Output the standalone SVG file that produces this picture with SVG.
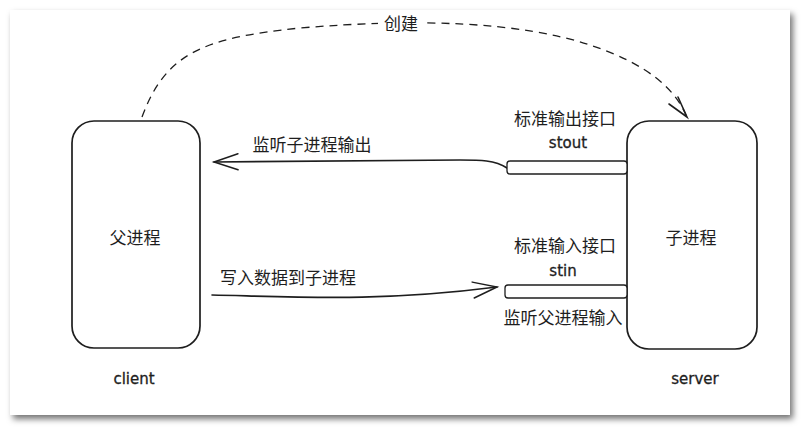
<svg xmlns="http://www.w3.org/2000/svg" width="801" height="427" viewBox="0 0 801 427">
<defs>
<filter id="sh" x="-5%" y="-5%" width="110%" height="115%">
<feDropShadow dx="3" dy="4" stdDeviation="3" flood-color="#000" flood-opacity="0.55"/>
</filter>
<marker id="ah" markerWidth="30" markerHeight="20" refX="0" refY="0" orient="auto" markerUnits="userSpaceOnUse" viewBox="-25 -10 30 20" overflow="visible">
<path d="M-24,-8 L0,0 L-24,8" fill="none" stroke="#1e1e1e" stroke-width="1.5" stroke-linecap="round"/>
</marker>
<style>
.box{fill:#fff;stroke:#1e1e1e;stroke-width:1.7}
.bar{fill:#fff;stroke:#1e1e1e;stroke-width:1.3}
.ln{fill:none;stroke:#1e1e1e;stroke-width:1.6;stroke-linecap:round}
.dash{fill:none;stroke:#1e1e1e;stroke-width:1.3;stroke-dasharray:8 6}
.t{font-family:"Noto Sans CJK SC","Noto Sans",sans-serif;font-size:17px;fill:#1e1e1e;text-anchor:middle;dominant-baseline:central}
.h{font-family:"DejaVu Sans",sans-serif;font-size:15px;fill:#1e1e1e;stroke:#1e1e1e;stroke-width:0.3;text-anchor:middle;dominant-baseline:central}
</style>
</defs>
<rect x="0" y="0" width="801" height="427" fill="#fff"/>
<rect x="10" y="10" width="780" height="405" fill="#fff" filter="url(#sh)"/>
<g id="connectors">
<path class="dash" d="M142,117 C165,55 200,38 300,28 C420,18 520,22 590,45 C650,65 675,90 686,115"/>
<path class="ln" d="M669,104 L687,117 L678,97"/>
<rect x="378" y="12" width="46" height="22" fill="#fff"/>
<text class="t" x="401" y="22">创建</text>
<path class="ln" d="M507,168 C495,160 480,160 460,160 L214,162" marker-end="url(#ah)"/>
<path class="ln" d="M212,295 C300,297 380,302 497,287" marker-end="url(#ah)"/>
</g>
<g id="parent">
<rect class="box" x="72" y="121" width="128" height="227" rx="22"/>
<text class="t" x="135" y="236">父进程</text>
<text class="h" x="134" y="379">client</text>
</g>
<g id="child">
<rect class="box" x="627" y="121" width="130" height="228" rx="22"/>
<text class="t" x="691" y="236">子进程</text>
<text class="h" x="695" y="379">server</text>
</g>
<g id="stdout">
<rect class="bar" x="507" y="161" width="120" height="13" rx="3"/>
<text class="t" x="565" y="117">标准输出接口</text>
<text class="h" x="568" y="143">stout</text>
</g>
<g id="stdin">
<rect class="bar" x="505" y="285" width="122" height="13" rx="3"/>
<text class="t" x="565" y="244">标准输入接口</text>
<text class="h" x="563" y="271">stin</text>
<text class="t" x="563" y="316">监听父进程输入</text>
</g>
<g id="labels">
<text class="t" x="312" y="143">监听子进程输出</text>
<text class="t" x="288" y="276">写入数据到子进程</text>
</g>
</svg>
